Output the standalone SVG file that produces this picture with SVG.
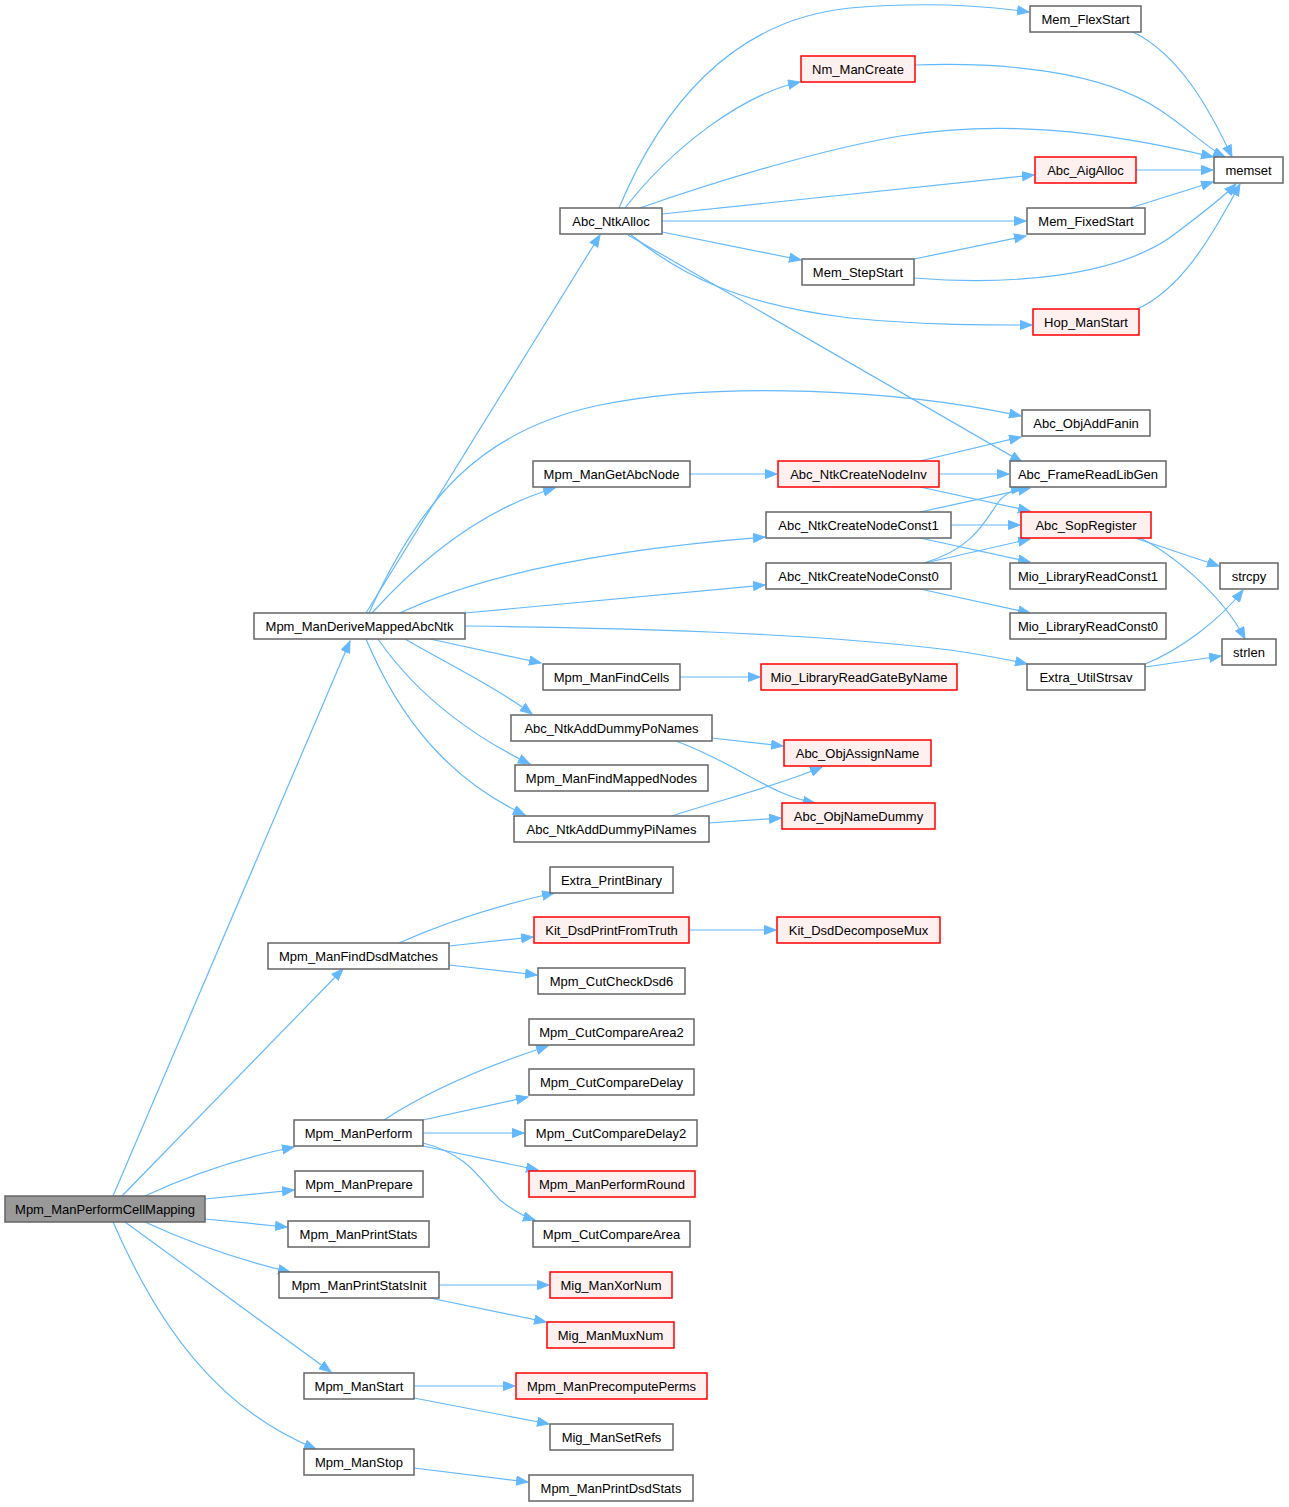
<svg xmlns="http://www.w3.org/2000/svg" width="1289" height="1507" viewBox="0 0 1289 1507">
<style>
.n rect{fill:#ffffff;stroke:#666666;stroke-width:1.5}
.r rect{fill:#fff0f0;stroke:#ff0000;stroke-width:1.5}
.root rect{fill:#999999;stroke:#666666;stroke-width:1.5}
text{font-family:"Liberation Sans",Arial,sans-serif;font-size:13px;fill:#000000;text-anchor:middle}
.e path{fill:none;stroke:#63b8ff;stroke-width:1.2;marker-end:url(#ah)}
</style>
<defs>
<marker id="ah" markerUnits="userSpaceOnUse" markerWidth="14" markerHeight="12" refX="12" refY="5" orient="auto">
<path d="M0.5,0.5 L12,5 L0.5,9.5 z" fill="#63b8ff" stroke="#63b8ff"/>
</marker>
</defs>
<rect width="1289" height="1507" fill="#ffffff"/>
<g id="edges" class="e">
<path d="M113,1196 L350,641"/>
<path d="M122,1196 L343,969"/>
<path d="M145,1196 C190,1175 240,1158 294,1147"/>
<path d="M205,1199 L294,1190"/>
<path d="M205,1219 L287,1227"/>
<path d="M145,1222 C190,1243 240,1260 290,1272"/>
<path d="M125,1222 L331,1372"/>
<path d="M113,1222 C160,1330 220,1410 316,1449"/>
<path d="M366,613 L600,235"/>
<path d="M369,613 C420,500 480,430 600,405 C720,380 900,390 1021,416"/>
<path d="M372,613 C420,560 480,510 555,488"/>
<path d="M400,613 C480,575 600,550 765,537"/>
<path d="M465,613 L765,585"/>
<path d="M465,626 C620,628 800,632 950,650 C990,656 1010,660 1027,664"/>
<path d="M430,639 L541,663"/>
<path d="M405,639 C450,665 500,690 532,714"/>
<path d="M378,639 C420,700 480,740 530,764"/>
<path d="M366,639 C400,720 450,780 525,815"/>
<path d="M619,208 C660,110 730,20 850,8 C920,2 980,5 1029,12"/>
<path d="M625,208 C670,150 740,95 800,82"/>
<path d="M640,208 C720,180 820,150 900,136 C1000,120 1100,130 1213,157"/>
<path d="M662,214 L1034,175"/>
<path d="M662,221 L1026,221"/>
<path d="M662,232 L801,260"/>
<path d="M630,234 C680,275 740,305 850,318 C920,325 980,325 1032,325"/>
<path d="M628,235 L1022,462"/>
<path d="M915,65 C1000,62 1100,70 1160,110 C1190,130 1210,150 1225,157"/>
<path d="M1133,32 C1180,55 1210,110 1232,157"/>
<path d="M1136,170 L1213,170"/>
<path d="M1130,208 L1213,182"/>
<path d="M914,259 L1026,236"/>
<path d="M914,278 C1000,285 1120,280 1180,230 C1200,215 1220,200 1236,184"/>
<path d="M1137,309 C1180,290 1210,240 1240,184"/>
<path d="M690,474 L777,474"/>
<path d="M920,461 L1021,437"/>
<path d="M939,474 L1009,474"/>
<path d="M920,487 L1030,511"/>
<path d="M920,512 L1030,488"/>
<path d="M951,525 L1020,525"/>
<path d="M920,538 L1030,562"/>
<path d="M924,563 C975,548 985,520 1000,500 C1008,492 1015,489 1023,488"/>
<path d="M925,563 L1030,539"/>
<path d="M920,589 L1030,613"/>
<path d="M1135,538 L1219,566"/>
<path d="M1140,538 C1165,550 1220,590 1245,639"/>
<path d="M1145,664 C1180,650 1220,620 1243,590"/>
<path d="M1145,667 L1221,656"/>
<path d="M680,677 L760,677"/>
<path d="M712,738 L783,746"/>
<path d="M676,741 C740,765 770,795 815,803"/>
<path d="M672,816 C720,800 780,785 822,767"/>
<path d="M709,823 L781,818"/>
<path d="M399,943 C450,920 500,905 554,893"/>
<path d="M449,946 L533,937"/>
<path d="M449,965 L537,975"/>
<path d="M689,930 L776,930"/>
<path d="M384,1120 C430,1090 490,1065 548,1046"/>
<path d="M423,1120 L528,1097"/>
<path d="M423,1133 L524,1133"/>
<path d="M423,1146 L538,1170"/>
<path d="M423,1143 C470,1155 480,1180 500,1200 C515,1212 525,1217 535,1220"/>
<path d="M439,1285 L549,1285"/>
<path d="M430,1298 L546,1322"/>
<path d="M414,1386 L515,1386"/>
<path d="M414,1398 L549,1424"/>
<path d="M414,1468 L528,1482"/>
</g>
<g id="Mpm_ManPerformCellMapping" class="root"><rect x="5" y="1196" width="200" height="26"/><text x="105" y="1213.5">Mpm_ManPerformCellMapping</text></g>
<g id="Mpm_ManDeriveMappedAbcNtk" class="n"><rect x="254" y="613" width="211" height="26"/><text x="359.5" y="630.5">Mpm_ManDeriveMappedAbcNtk</text></g>
<g id="Mpm_ManFindDsdMatches" class="n"><rect x="268" y="943" width="181" height="26"/><text x="358.5" y="960.5">Mpm_ManFindDsdMatches</text></g>
<g id="Mpm_ManPerform" class="n"><rect x="294" y="1120" width="129" height="26"/><text x="358.5" y="1137.5">Mpm_ManPerform</text></g>
<g id="Mpm_ManPrepare" class="n"><rect x="295" y="1171" width="128" height="26"/><text x="359" y="1188.5">Mpm_ManPrepare</text></g>
<g id="Mpm_ManPrintStats" class="n"><rect x="288" y="1221" width="141" height="26"/><text x="358.5" y="1238.5">Mpm_ManPrintStats</text></g>
<g id="Mpm_ManPrintStatsInit" class="n"><rect x="279" y="1272" width="160" height="26"/><text x="359" y="1289.5">Mpm_ManPrintStatsInit</text></g>
<g id="Mpm_ManStart" class="n"><rect x="304" y="1373" width="110" height="26"/><text x="359" y="1390.5">Mpm_ManStart</text></g>
<g id="Mpm_ManStop" class="n"><rect x="304" y="1449" width="110" height="26"/><text x="359" y="1466.5">Mpm_ManStop</text></g>
<g id="Abc_NtkAlloc" class="n"><rect x="560" y="208" width="102" height="26"/><text x="611" y="225.5">Abc_NtkAlloc</text></g>
<g id="Mpm_ManGetAbcNode" class="n"><rect x="533" y="461" width="157" height="26"/><text x="611.5" y="478.5">Mpm_ManGetAbcNode</text></g>
<g id="Mpm_ManFindCells" class="n"><rect x="543" y="664" width="137" height="26"/><text x="611.5" y="681.5">Mpm_ManFindCells</text></g>
<g id="Abc_NtkAddDummyPoNames" class="n"><rect x="511" y="715" width="201" height="26"/><text x="611.5" y="732.5">Abc_NtkAddDummyPoNames</text></g>
<g id="Mpm_ManFindMappedNodes" class="n"><rect x="515" y="765" width="193" height="26"/><text x="611.5" y="782.5">Mpm_ManFindMappedNodes</text></g>
<g id="Abc_NtkAddDummyPiNames" class="n"><rect x="514" y="816" width="195" height="26"/><text x="611.5" y="833.5">Abc_NtkAddDummyPiNames</text></g>
<g id="Extra_PrintBinary" class="n"><rect x="550" y="867" width="123" height="26"/><text x="611.5" y="884.5">Extra_PrintBinary</text></g>
<g id="Kit_DsdPrintFromTruth" class="r"><rect x="534" y="917" width="155" height="26"/><text x="611.5" y="934.5">Kit_DsdPrintFromTruth</text></g>
<g id="Mpm_CutCheckDsd6" class="n"><rect x="538" y="968" width="147" height="26"/><text x="611.5" y="985.5">Mpm_CutCheckDsd6</text></g>
<g id="Mpm_CutCompareArea2" class="n"><rect x="529" y="1019" width="165" height="26"/><text x="611.5" y="1036.5">Mpm_CutCompareArea2</text></g>
<g id="Mpm_CutCompareDelay" class="n"><rect x="529" y="1069" width="165" height="26"/><text x="611.5" y="1086.5">Mpm_CutCompareDelay</text></g>
<g id="Mpm_CutCompareDelay2" class="n"><rect x="525" y="1120" width="172" height="26"/><text x="611" y="1137.5">Mpm_CutCompareDelay2</text></g>
<g id="Mpm_ManPerformRound" class="r"><rect x="529" y="1171" width="166" height="26"/><text x="612" y="1188.5">Mpm_ManPerformRound</text></g>
<g id="Mpm_CutCompareArea" class="n"><rect x="533" y="1221" width="157" height="26"/><text x="611.5" y="1238.5">Mpm_CutCompareArea</text></g>
<g id="Mig_ManXorNum" class="r"><rect x="550" y="1272" width="122" height="26"/><text x="611" y="1289.5">Mig_ManXorNum</text></g>
<g id="Mig_ManMuxNum" class="r"><rect x="547" y="1322" width="127" height="26"/><text x="610.5" y="1339.5">Mig_ManMuxNum</text></g>
<g id="Mpm_ManPrecomputePerms" class="r"><rect x="516" y="1373" width="191" height="26"/><text x="611.5" y="1390.5">Mpm_ManPrecomputePerms</text></g>
<g id="Mig_ManSetRefs" class="n"><rect x="550" y="1424" width="123" height="26"/><text x="611.5" y="1441.5">Mig_ManSetRefs</text></g>
<g id="Mpm_ManPrintDsdStats" class="n"><rect x="529" y="1475" width="164" height="26"/><text x="611" y="1492.5">Mpm_ManPrintDsdStats</text></g>
<g id="Nm_ManCreate" class="r"><rect x="801" y="56" width="114" height="26"/><text x="858" y="73.5">Nm_ManCreate</text></g>
<g id="Mem_StepStart" class="n"><rect x="802" y="259" width="112" height="26"/><text x="858" y="276.5">Mem_StepStart</text></g>
<g id="Abc_NtkCreateNodeInv" class="r"><rect x="778" y="461" width="161" height="26"/><text x="858.5" y="478.5">Abc_NtkCreateNodeInv</text></g>
<g id="Abc_NtkCreateNodeConst1" class="n"><rect x="766" y="512" width="185" height="26"/><text x="858.5" y="529.5">Abc_NtkCreateNodeConst1</text></g>
<g id="Abc_NtkCreateNodeConst0" class="n"><rect x="766" y="563" width="185" height="26"/><text x="858.5" y="580.5">Abc_NtkCreateNodeConst0</text></g>
<g id="Mio_LibraryReadGateByName" class="r"><rect x="761" y="664" width="196" height="26"/><text x="859" y="681.5">Mio_LibraryReadGateByName</text></g>
<g id="Abc_ObjAssignName" class="r"><rect x="784" y="740" width="147" height="26"/><text x="857.5" y="757.5">Abc_ObjAssignName</text></g>
<g id="Abc_ObjNameDummy" class="r"><rect x="782" y="803" width="153" height="26"/><text x="858.5" y="820.5">Abc_ObjNameDummy</text></g>
<g id="Kit_DsdDecomposeMux" class="r"><rect x="777" y="917" width="163" height="26"/><text x="858.5" y="934.5">Kit_DsdDecomposeMux</text></g>
<g id="Mem_FlexStart" class="n"><rect x="1030" y="6" width="111" height="26"/><text x="1085.5" y="23.5">Mem_FlexStart</text></g>
<g id="Abc_AigAlloc" class="r"><rect x="1035" y="157" width="101" height="26"/><text x="1085.5" y="174.5">Abc_AigAlloc</text></g>
<g id="Mem_FixedStart" class="n"><rect x="1027" y="208" width="118" height="26"/><text x="1086" y="225.5">Mem_FixedStart</text></g>
<g id="Hop_ManStart" class="r"><rect x="1033" y="309" width="106" height="26"/><text x="1086" y="326.5">Hop_ManStart</text></g>
<g id="Abc_ObjAddFanin" class="n"><rect x="1022" y="410" width="128" height="26"/><text x="1086" y="427.5">Abc_ObjAddFanin</text></g>
<g id="Abc_FrameReadLibGen" class="n"><rect x="1010" y="461" width="156" height="26"/><text x="1088" y="478.5">Abc_FrameReadLibGen</text></g>
<g id="Abc_SopRegister" class="r"><rect x="1021" y="512" width="130" height="26"/><text x="1086" y="529.5">Abc_SopRegister</text></g>
<g id="Mio_LibraryReadConst1" class="n"><rect x="1010" y="563" width="156" height="26"/><text x="1088" y="580.5">Mio_LibraryReadConst1</text></g>
<g id="Mio_LibraryReadConst0" class="n"><rect x="1010" y="613" width="156" height="26"/><text x="1088" y="630.5">Mio_LibraryReadConst0</text></g>
<g id="Extra_UtilStrsav" class="n"><rect x="1027" y="664" width="118" height="26"/><text x="1086" y="681.5">Extra_UtilStrsav</text></g>
<g id="memset" class="n"><rect x="1214" y="157" width="69" height="26"/><text x="1248.5" y="174.5">memset</text></g>
<g id="strcpy" class="n"><rect x="1220" y="563" width="58" height="26"/><text x="1249" y="580.5">strcpy</text></g>
<g id="strlen" class="n"><rect x="1222" y="639" width="54" height="26"/><text x="1249" y="656.5">strlen</text></g>
</svg>
